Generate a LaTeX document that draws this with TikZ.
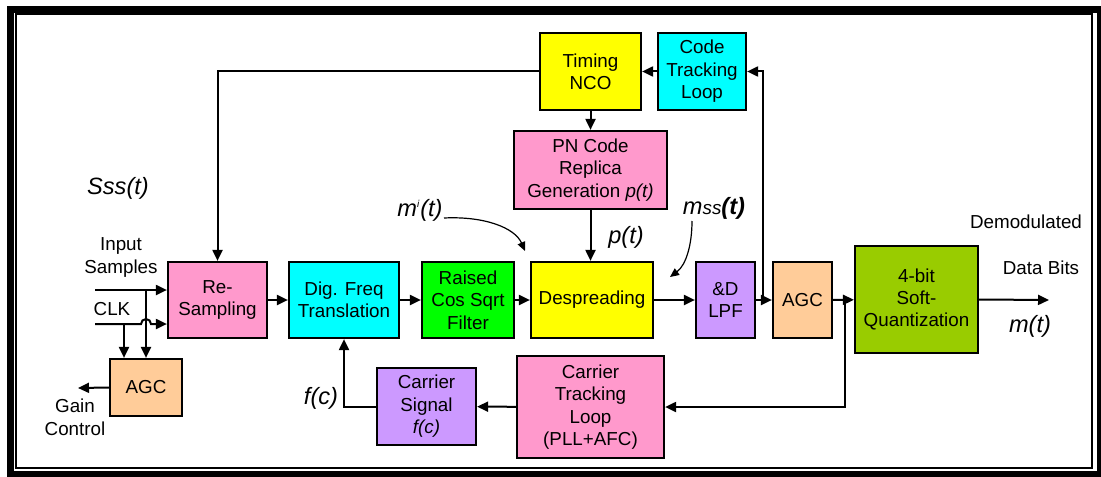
\documentclass[tikz,border=0pt]{standalone}
\usepackage{fontspec}
\setmainfont{Liberation Sans}
\usetikzlibrary{arrows.meta, positioning}

\definecolor{pinkbox}{HTML}{FF99CC}
\definecolor{cyanbox}{HTML}{00FFFF}
\definecolor{yellowbox}{HTML}{FFFF00}
\definecolor{greenbox}{HTML}{00FF00}
\definecolor{lavbox}{HTML}{CC99FF}
\definecolor{peachbox}{HTML}{FFCC99}
\definecolor{olivebox}{HTML}{99CC00}

\begin{document}
\begin{tikzpicture}[
  x=0.5pt, y=-0.5pt,
  block/.style={rectangle, draw=black, line width=1.1pt, inner sep=0pt, align=center, font=\fontsize{9.4}{11.2}\selectfont},
  line/.style={draw, line width=1pt, -{Triangle[length=5.5pt, width=5pt]}},
  curvy/.style={draw, line width=0.6pt, -{Triangle[length=4.5pt, width=4pt]}},
  sig/.style={inner sep=0pt, font=\fontsize{11.8}{13}\selectfont\itshape},
  txt/.style={inner sep=0pt, align=center, font=\fontsize{9.4}{11.5}\selectfont}
]
  \useasboundingbox (0,0) rectangle (1101,476);

  % double frame
  \draw [line width=3.5pt] (10.5,9.5) rectangle (1100.5,474.5);
  \draw [line width=1pt] (16,14) rectangle (1091.5,468);

  % blocks
  \node [block, fill=yellowbox, minimum width=50.5pt, minimum height=38.5pt] (nco) at (590.5,71.5) {Timing\\NCO};
  \node [block, fill=cyanbox, minimum width=44pt, minimum height=38.5pt] (ctl) at (702,71.5) {Code\\Tracking\\Loop};
  \node [block, fill=pinkbox, minimum width=76.5pt, minimum height=39pt] (pn) at (590.5,170) {PN Code\\Replica\\Generation \textit{p(t)}};
  \node [block, fill=pinkbox, minimum width=49.5pt, minimum height=38pt] (resamp) at (217.5,300) {Re-\\Sampling};
  \node [block, fill=cyanbox, minimum width=55pt, minimum height=38pt] (dft) at (344,300) {Dig. Freq\\Translation};
  \node [block, fill=greenbox, minimum width=46pt, minimum height=38pt] (rcf) at (468,300) {Raised\\Cos Sqrt\\Filter};
  \node [block, fill=yellowbox, minimum width=61pt, minimum height=38pt] (desp) at (592,300) {Despreading};
  \node [block, fill=lavbox, minimum width=29.5pt, minimum height=38pt] (lpf) at (725.5,300) {\&D\\LPF};
  \node [block, fill=peachbox, minimum width=29.5pt, minimum height=38pt] (agcr) at (802.5,300) {AGC};
  \node [block, fill=olivebox, minimum width=61.5pt, minimum height=53.5pt] (quant) at (916.5,299.5) {4-bit\\Soft-\\Quantization};
  \node [block, fill=pinkbox, minimum width=73.5pt, minimum height=51pt] (ctrk) at (590.5,407) {Carrier\\Tracking\\Loop\\(PLL+AFC)};
  \node [block, fill=lavbox, minimum width=49.5pt, minimum height=38.5pt] (csig) at (426.5,406.5) {Carrier\\Signal\\\textit{f(c)}};
  \node [block, fill=peachbox, minimum width=36pt, minimum height=28.5pt] (agcl) at (146,387.5) {AGC};

  % labels
  \node [sig] (sss) at (118,188) {Sss(t)};
  \node [sig] (mi) at (420,210) {m\textsuperscript{\tiny i}(t)};
  \node [sig] (mss) at (714,208) {m{\fontsize{9.4}{10}\selectfont ss}\textbf{(t)}};
  \node [sig] (pt) at (626,237) {p(t)};
  \node [sig] (fc) at (321,398) {f(c)};
  \node [sig] (mt) at (1030,326) {m(t)};
  \node [txt] (demod) at (1026,222) {Demodulated};
  \node [txt] (bits) at (1041,268) {Data Bits};
  \node [txt, text depth=0pt] (input) at (121,256) {Input\\Samples};
  \node [txt] (clk) at (112,309) {CLK};
  \node [txt] (gainlbl) at (75,417) {Gain\\Control};

  % free ends and junctions
  \coordinate (inA) at (95,290);
  \coordinate (inB) at (95,324);
  \coordinate (jA) at (146,290);
  \coordinate (jB) at (124,324);
  \coordinate (gain) at (78,388);
  \coordinate (ctlj) at (763,300);
  \coordinate (crj) at (845,300);
  \coordinate (out) at (1049,300);

  % main chain
  \draw [line] (resamp) -- (dft);
  \draw [line] (dft) -- (rcf);
  \draw [line] (rcf) -- (desp);
  \draw [line] (desp) -- (lpf);
  \draw [line] (lpf) -- (agcr);
  \draw [line] (agcr) -- (quant);
  \draw [line] (quant.east) -- (out);

  % timing loop
  \draw [line] (ctlj) |- (ctl.east);
  \draw [line] (ctl) -- (nco);
  \draw [line] (nco) -- (pn);
  \draw [line] (pn.south) -- (pn.south |- desp.north);
  \draw [line] (nco.west) -| (resamp.north);

  % carrier loop
  \draw [line] (crj) |- (ctrk.east);
  \draw [line] (ctrk) -- (csig);
  \draw [line] (csig.west) -| (dft.south);

  % inputs and front-end AGC
  \draw [line] (inA) -- (inA -| resamp.west);
  \draw [line] (inB) -- (141,324) arc[start angle=180, end angle=0, radius=2.5pt] -- (inB -| resamp.west);
  \draw [line] (jA) -- (jA |- agcl.north);
  \draw [line] (jB) -- (jB |- agcl.north);
  \draw [line] (agcl.west) -- (gain);

  % signal pointers
  \draw [curvy] (444,218) .. controls (485,216) and (515,228) .. (525,251);
  \draw [curvy] (692,221) .. controls (692,245) and (686,265) .. (670,277);
\end{tikzpicture}
\end{document}
